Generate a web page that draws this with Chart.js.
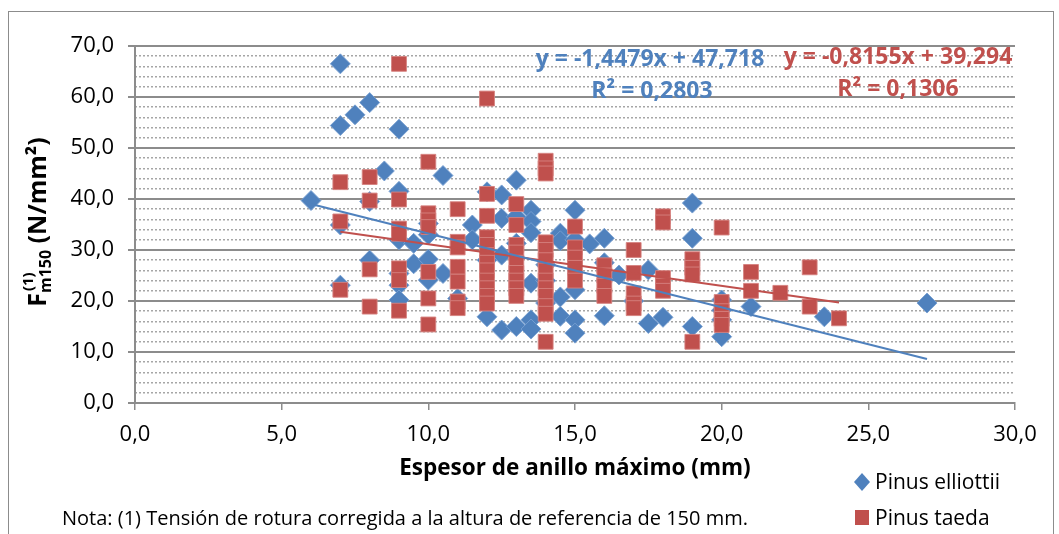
<!DOCTYPE html>
<html>
<head>
<meta charset="utf-8">
<title>Fm150 vs espesor de anillo</title>
<script src="https://cdn.jsdelivr.net/npm/chart.js@4.4.0/dist/chart.umd.min.js"></script>
<style>
html, body { margin: 0; padding: 0; background: #fff; }
#wrap { width: 1059px; height: 534px; }
</style>
</head>
<body>
<div id="wrap"><canvas id="chart" width="1059" height="534"></canvas></div>
<script>
// Pinus elliottii: espesor de anillo máximo (mm) / Fm150 (N/mm2)
let elliottiiX = [6, 7, 7, 7.5, 8, 9, 8.5, 10.5, 7, 8, 9, 9, 9.5, 7, 8, 9, 9, 9, 9.5, 10,
  10, 10, 10, 10.5, 11, 11.5, 11.5, 12, 12.5, 12.5, 13, 13, 13.5, 13.5, 13.5, 12.5, 12, 13, 13.5, 12,
  12.5, 13, 13.5, 13.5, 14, 14, 14, 14.5, 14.5, 14.5, 14.5, 15, 15, 15, 15, 15, 15.5, 16, 16, 16,
  16.5, 17, 17.5, 17.5, 18, 19, 19, 19, 20, 20, 20, 20, 21, 23.5, 27];
let elliottiiY = [39.7, 66.5, 54.4, 56.5, 58.9, 53.7, 45.5, 44.6, 34.9, 39.5, 41.5, 32, 31.3, 23.1, 28, 25.4, 23.1, 20.2, 27.3, 28.2,
  24.1, 35.2, 33, 25.4, 20.5, 34.9, 32, 41.4, 40.8, 36.2, 43.7, 36.5, 37.8, 35.6, 33.4, 29, 28, 31.3, 23.5, 16.9,
  14.3, 15, 16.3, 14.5, 27.1, 24, 19.6, 33.3, 31.8, 20.8, 17, 37.8, 32, 22.2, 16.3, 13.7, 31.2, 32.3, 27.5, 17.1,
  25.1, 20, 26.1, 15.6, 16.8, 39.2, 32.3, 15, 20.2, 18.2, 16.3, 13, 18.9, 16.9, 19.6];

// Pinus taeda
let taedaX = [7, 8, 8, 9, 7, 9, 10, 10, 10, 10, 9, 9, 11, 11, 11, 11, 11, 11, 11, 7,
  8, 8, 9, 9, 9, 10, 10, 10, 12, 14, 14, 14, 12, 12, 13, 13, 12, 12, 12, 12,
  12, 12, 12, 12, 12, 13, 13, 13, 13, 13, 13, 13, 14, 14, 14, 14, 14, 14, 14, 14,
  14, 14, 15, 15, 15, 15, 15, 16, 16, 16, 16, 17, 17, 17, 17, 17, 18, 18, 18, 18,
  18, 19, 19, 19, 19, 20, 20, 20, 20, 20, 21, 21, 22, 23, 23, 24];
let taedaY = [43.3, 44.3, 39.7, 39.9, 35.6, 66.5, 47.3, 37.2, 35.8, 34.5, 34.2, 33.2, 38, 31.6, 30.5, 26.7, 23.8, 19.9, 18.6, 22.2,
  26.2, 18.9, 26.4, 24.1, 18.1, 25.7, 20.5, 15.4, 59.7, 47.5, 46, 45, 41, 36.7, 39, 34.9, 32.5, 31, 29, 27.5,
  26, 24, 22.5, 21, 19.5, 31, 29.5, 27.5, 25.5, 24, 22.5, 21, 31.5, 30, 28, 26, 24, 22.5, 21, 19,
  17.5, 12, 34.6, 30.5, 28.5, 26.5, 24, 27, 25, 23, 21, 30, 25.5, 21.5, 19.5, 18.6, 36.6, 35.4, 24.5, 23,
  22, 28.2, 26.5, 25.2, 12, 34.4, 19.8, 18, 16.5, 15.3, 25.7, 22, 21.6, 26.6, 18.9, 16.6];

// linear trendlines: slope, intercept, R2
let seriesNames = ['Pinus elliottii', 'Pinus taeda'];
let trendSlope = [-1.4479, -0.8155];
let trendIntercept = [47.718, 39.294];
let trendR2 = [0.2803, 0.1306];

let xTicks = [0, 5, 10, 15, 20, 25, 30];
let yTicks = [0, 10, 20, 30, 40, 50, 60, 70];

const BLUE = '#4F81BD';
const RED = '#C0504D';
const FONT = "'Open Sans', sans-serif";

function toPoints(xs, ys) {
  let pts = [];
  for (let i = 0; i < xs.length; i++) pts.push({x: xs[i], y: ys[i]});
  return pts;
}

function trendPoints(xs, k) {
  let x0 = Math.min(...xs), x1 = Math.max(...xs);
  return [
    {x: x0, y: trendSlope[k] * x0 + trendIntercept[k]},
    {x: x1, y: trendSlope[k] * x1 + trendIntercept[k]}
  ];
}

function comma(v, d) {
  return v.toFixed(d).replace('.', ',');
}

function eqText(k) {
  return 'y = ' + comma(trendSlope[k], 4) + 'x + ' + comma(trendIntercept[k], 3);
}

// texts drawn on top of the chart: frame, y title, equations, legend and note
const extras = {
  id: 'extras',
  afterDraw(chart) {
    const ctx = chart.ctx;
    ctx.save();

    ctx.strokeStyle = '#8c8c8c';
    ctx.lineWidth = 1;
    ctx.strokeRect(8.5, 11.5, 1045, 540);

    // y axis title with subscript / superscript
    ctx.save();
    ctx.translate(46, 222);
    ctx.rotate(-Math.PI / 2);
    ctx.fillStyle = '#000';
    ctx.textBaseline = 'alphabetic';
    const parts = [
      {t: 'F', size: 25, dy: 0},
      {t: 'm150', size: 16, dy: 5},
      {t: '(1)', size: 15, dy: -13},
      {t: ' (N/mm²)', size: 25, dy: 0}
    ];
    let total = 0;
    parts.forEach(p => {
      ctx.font = 'bold ' + p.size + 'px ' + FONT;
      p.w = ctx.measureText(p.t).width;
      total += p.w;
    });
    // the superscript sits above the subscript
    total -= parts[2].w;
    let x = -total / 2;
    parts.forEach((p, i) => {
      ctx.font = 'bold ' + p.size + 'px ' + FONT;
      if (i === 2) {
        ctx.fillText(p.t, x - parts[1].w + 2, p.dy);
        return;
      }
      ctx.fillText(p.t, x, p.dy);
      x += p.w;
      if (i === 1) x += Math.max(0, parts[2].w - p.w + 2);
    });
    ctx.restore();

    // trendline equations
    ctx.textAlign = 'center';
    ctx.textBaseline = 'middle';
    ctx.font = 'bold 23px ' + FONT;
    ctx.fillStyle = BLUE;
    ctx.fillText(eqText(0), 650, 59);
    ctx.fillText('R² = ' + comma(trendR2[0], 4), 652, 91);
    ctx.fillStyle = RED;
    ctx.fillText(eqText(1), 898, 57);
    ctx.fillText('R² = ' + comma(trendR2[1], 4), 898, 89);

    // legend
    ctx.textAlign = 'left';
    ctx.font = '21px ' + FONT;
    ctx.fillStyle = BLUE;
    ctx.beginPath();
    ctx.moveTo(862, 473); ctx.lineTo(870, 482); ctx.lineTo(862, 491); ctx.lineTo(854, 482);
    ctx.closePath();
    ctx.fill();
    ctx.fillStyle = RED;
    ctx.fillRect(855, 510, 14, 15);
    ctx.fillStyle = '#000';
    ctx.fillText(seriesNames[0], 875, 483);
    ctx.fillText(seriesNames[1], 875, 519);

    // footnote
    ctx.font = '20px ' + FONT;
    ctx.fillText('Nota: (1) Tensión de rotura corregida a la altura de referencia de 150 mm.', 62, 519);

    ctx.restore();
  }
};

const ctx = document.getElementById('chart').getContext('2d');
const chart = new Chart(ctx, {
  type: 'scatter',
  data: {
    datasets: [
      {
        label: 'tend. elliottii',
        data: trendPoints(elliottiiX, 0),
        showLine: true,
        borderColor: BLUE,
        borderWidth: 2,
        pointRadius: 0,
        order: 0
      },
      {
        label: 'tend. taeda',
        data: trendPoints(taedaX, 1),
        showLine: true,
        borderColor: RED,
        borderWidth: 2,
        pointRadius: 0,
        order: 1
      },
      {
        label: seriesNames[1],
        data: toPoints(taedaX, taedaY),
        pointStyle: 'rect',
        pointRadius: 10.5,
        backgroundColor: RED,
        borderColor: 'rgba(214,130,128,0.9)',
        borderWidth: 1,
        order: 2
      },
      {
        label: seriesNames[0],
        data: toPoints(elliottiiX, elliottiiY),
        pointStyle: 'rectRot',
        pointRadius: 10,
        backgroundColor: BLUE,
        borderColor: 'rgba(120,160,210,0.9)',
        borderWidth: 1,
        order: 3
      }
    ]
  },
  options: {
    responsive: false,
    animation: false,
    events: [],
    layout: { padding: { left: 0, top: 46, right: 44, bottom: 51 } },
    plugins: {
      legend: { display: false },
      tooltip: { enabled: false }
    },
    scales: {
      x: {
        type: 'linear',
        min: 0,
        max: 30,
        afterBuildTicks: s => { s.ticks = xTicks.map(v => ({value: v})); },
        afterFit: s => { s.height = 80; },
        ticks: {
          padding: 12,
          color: '#000',
          font: { family: FONT, size: 22 },
          callback: v => comma(v, 1)
        },
        grid: {
          drawOnChartArea: false,
          tickLength: 7,
          color: '#8c8c8c',
          lineWidth: 1.5
        },
        border: { color: '#8c8c8c', width: 2 },
        title: {
          display: true,
          text: 'Espesor de anillo máximo (mm)',
          color: '#000',
          font: { family: FONT, size: 22.5, weight: 'bold' },
          padding: { top: 0, bottom: 1 }
        }
      },
      yMinor: {
        type: 'linear',
        position: 'left',
        min: 0,
        max: 70,
        ticks: { display: false, stepSize: 2 },
        afterFit: s => { s.width = 0; },
        grid: {
          drawTicks: false,
          lineWidth: 1.5,
          color: c => (c.tick && c.tick.value % 10 === 0) ? 'rgba(0,0,0,0)' : '#a6a6a6'
        },
        border: { display: false, dash: [2, 2] }
      },
      y: {
        type: 'linear',
        position: 'left',
        min: 0,
        max: 70,
        afterBuildTicks: s => { s.ticks = yTicks.map(v => ({value: v})); },
        afterFit: s => { s.width = 135; },
        ticks: {
          padding: 14,
          color: '#000',
          font: { family: FONT, size: 22 },
          callback: v => comma(v, 1)
        },
        grid: {
          color: '#8c8c8c',
          lineWidth: 2,
          tickLength: 7
        },
        border: { color: '#8c8c8c', width: 2 }
      }
    }
  },
  plugins: [extras]
});
</script>
</body>
</html>
